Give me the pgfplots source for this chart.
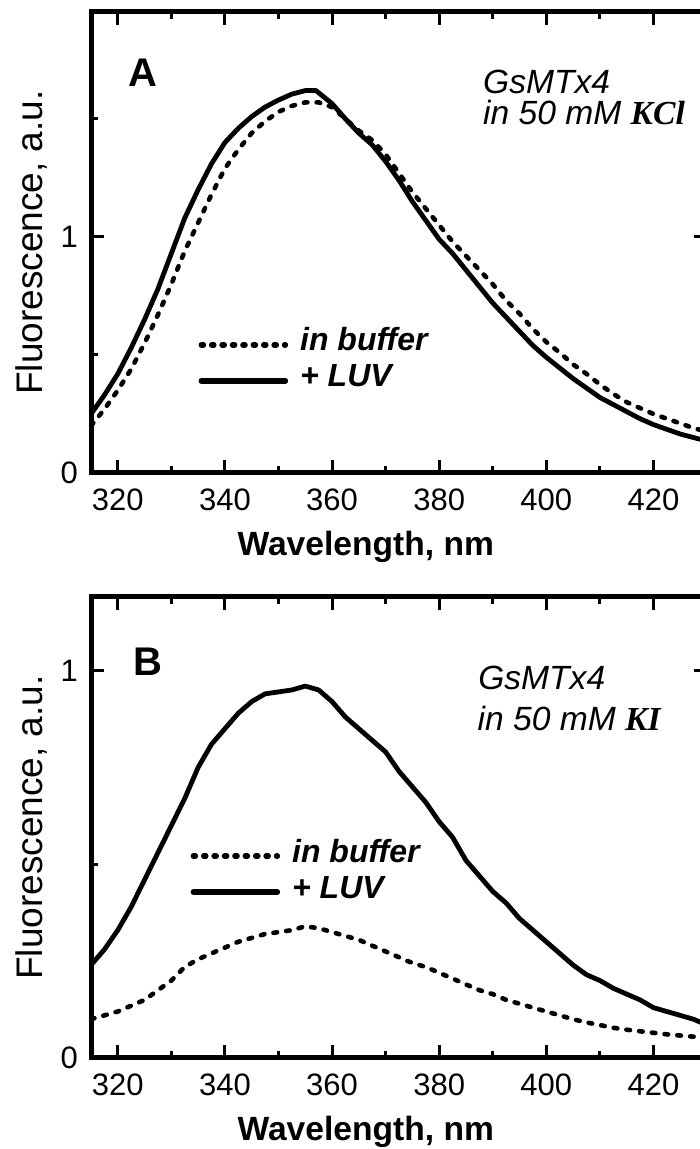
\documentclass[border=0pt]{standalone}
\usepackage{pgfplots}
\pgfplotsset{compat=1.18}
\usepackage{fontspec}
\setmainfont{Liberation Sans}
\newfontfamily\seriff{Liberation Serif}

\pgfplotsset{
  panel/.style={
    scale only axis, width=308pt, height=230.5pt,
    xmin=315, xmax=430,
    xtick={320,340,...,420}, minor xtick={330,350,...,410},
    axis line style={line width=2.5pt, line join=miter},
    tick align=inside,
    major tick length=6.5pt, minor tick length=3.5pt,
    every tick/.style={black, line width=1.5pt},
    tick label style={font=\fontsize{15.5}{18}\selectfont},
    /pgf/number format/assume math mode=true,
    xticklabel style={yshift=-4.5pt},
    yticklabel style={xshift=-3pt},
    xlabel={\textbf{Wavelength, nm}},
    xlabel style={at={(axis description cs:0.446,-0.179)}, anchor=base, font=\fontsize{16.8}{20}\selectfont},
    ylabel={Fluorescence, a.u.},
    ylabel style={at={(axis description cs:-0.0795,0.5)}, anchor=base, font=\fontsize{18.5}{22}\selectfont},
    legend style={draw=none, fill=none, inner sep=0pt, row sep=0pt,
      font=\fontsize{16}{19}\selectfont\bfseries\itshape,
      nodes={inner sep=0pt, text height=12pt, text depth=6pt},
      /tikz/every odd column/.style={column sep=6pt}},
    legend cell align=left,
    legend image code/.code={\draw[#1, line width=2.8pt] (0pt,0pt) -- (42pt,0pt);},
  },
  buf/.style={black, line width=2.3pt, line cap=round, dash pattern=on 1.8pt off 4.6pt},
  luv/.style={black, line width=2.4pt, line cap=round, line join=round},
}
\tikzset{bufleg/.style={dash pattern=on 1pt off 4.2pt}}

\begin{document}
\begin{tikzpicture}
\useasboundingbox (0,0) rectangle (350pt,574.5pt);
\clip (0,0) rectangle (350pt,574.5pt);

% panel A
\begin{axis}[panel, at={(45.5pt,338pt)}, anchor=south west,
  ymin=0, ymax=1.953, ytick={0,1}, minor ytick={0.5,1.5},
  legend style={at={(axis description cs:0.174,0.239)}, anchor=west}]
\addplot[buf, legend image post style={bufleg}] coordinates {
(315,0.20) (317.5,0.27) (320,0.35) (322.5,0.44) (325,0.55) (327.5,0.67)
(330,0.80) (332.5,0.94) (335,1.06) (337.5,1.18) (340,1.29) (342.5,1.37)
(345,1.44) (347.5,1.49) (350,1.53) (352.5,1.555) (355,1.57) (357.5,1.57)
(360,1.55) (362.5,1.50) (365,1.45) (367.5,1.41) (370,1.35) (372.5,1.27)
(375,1.19) (377.5,1.12) (380,1.05) (382.5,0.98) (385,0.92) (387.5,0.86)
(390,0.80) (392.5,0.73) (395,0.675) (397.5,0.61) (400,0.555) (402.5,0.51)
(405,0.46) (407.5,0.42) (410,0.375) (412.5,0.335) (415,0.30) (417.5,0.275)
(420,0.25) (422.5,0.23) (425,0.21) (427.5,0.19) (430,0.175)
};
\addplot[luv] coordinates {
(315,0.25) (317.5,0.33) (320,0.42) (322.5,0.53) (325,0.65) (327.5,0.78)
(330,0.93) (332.5,1.08) (335,1.20) (337.5,1.31) (340,1.40) (342.5,1.46)
(345,1.51) (347.5,1.55) (350,1.58) (352.5,1.605) (355,1.62) (357,1.62)
(360,1.565) (362.5,1.50) (365,1.44) (367.5,1.39) (370,1.32) (372.5,1.24)
(375,1.15) (377.5,1.07) (380,0.99) (382.5,0.93) (385,0.86) (387.5,0.79)
(390,0.72) (392.5,0.66) (395,0.60) (397.5,0.54) (400,0.49) (402.5,0.445)
(405,0.40) (407.5,0.36) (410,0.32) (412.5,0.29) (415,0.26) (417.5,0.23)
(420,0.205) (422.5,0.185) (425,0.165) (427.5,0.15) (430,0.135)
};
\legend{in buffer, + LUV}
\node[font=\fontsize{20}{24}\selectfont\bfseries] at (rel axis cs:0.0844,0.868) {A};
\node[anchor=base west, inner sep=0pt, font=\fontsize{16.8}{20}\selectfont\itshape] at (rel axis cs:0.636,0.824) {GsMTx4};
\node[anchor=base west, inner sep=0pt, font=\fontsize{16.8}{20}\selectfont\itshape] at (rel axis cs:0.636,0.755) {in 50 mM {\seriff\bfseries KCl}};
\end{axis}

% panel B
\begin{axis}[panel, at={(45.5pt,45.5pt)}, anchor=south west,
  ymin=0, ymax=1.19, ytick={0,1}, minor ytick={0.5},
  legend style={at={(axis description cs:0.161,0.399)}, anchor=west}]
\addplot[buf, legend image post style={bufleg}] coordinates {
(315,0.10) (317.5,0.11) (320,0.12) (322.5,0.135) (325,0.15) (327.5,0.175)
(330,0.20) (332.5,0.235) (335,0.255) (337.5,0.27) (340,0.285) (342.5,0.30)
(345,0.31) (347.5,0.32) (350,0.325) (352.5,0.33) (355,0.34) (357.5,0.335)
(360,0.325) (362.5,0.315) (365,0.305) (367.5,0.29) (370,0.275) (372.5,0.26)
(375,0.245) (377.5,0.235) (380,0.22) (382.5,0.205) (385,0.19) (387.5,0.175)
(390,0.165) (392.5,0.15) (395,0.14) (397.5,0.13) (400,0.12) (402.5,0.11)
(405,0.10) (407.5,0.092) (410,0.085) (412.5,0.078) (415,0.073) (417.5,0.069)
(420,0.065) (422.5,0.061) (425,0.058) (427.5,0.055) (430,0.052)
};
\addplot[luv] coordinates {
(315,0.24) (317.5,0.28) (320,0.33) (322.5,0.39) (325,0.46) (327.5,0.53)
(330,0.60) (332.5,0.67) (335,0.75) (337.5,0.81) (340,0.85) (342.5,0.89)
(345,0.92) (347.5,0.94) (350,0.945) (352.5,0.95) (355,0.96) (357.5,0.95)
(360,0.92) (362.5,0.88) (365,0.85) (367.5,0.82) (370,0.79) (372.5,0.74)
(375,0.70) (377.5,0.66) (380,0.61) (382.5,0.57) (385,0.51) (387.5,0.47)
(390,0.43) (392.5,0.40) (395,0.36) (397.5,0.33) (400,0.30) (402.5,0.27)
(405,0.24) (407.5,0.215) (410,0.20) (412.5,0.18) (415,0.165) (417.5,0.15)
(420,0.13) (422.5,0.12) (425,0.11) (427.5,0.10) (430,0.085)
};
\legend{in buffer, + LUV}
\node[font=\fontsize{20}{24}\selectfont\bfseries] at (rel axis cs:0.0925,0.859) {B};
\node[anchor=base west, inner sep=0pt, font=\fontsize{16.8}{20}\selectfont\itshape] at (rel axis cs:0.628,0.800) {GsMTx4};
\node[anchor=base west, inner sep=0pt, font=\fontsize{16.8}{20}\selectfont\itshape] at (rel axis cs:0.627,0.711) {in 50 mM {\seriff\bfseries KI}};
\end{axis}
\end{tikzpicture}
\end{document}
